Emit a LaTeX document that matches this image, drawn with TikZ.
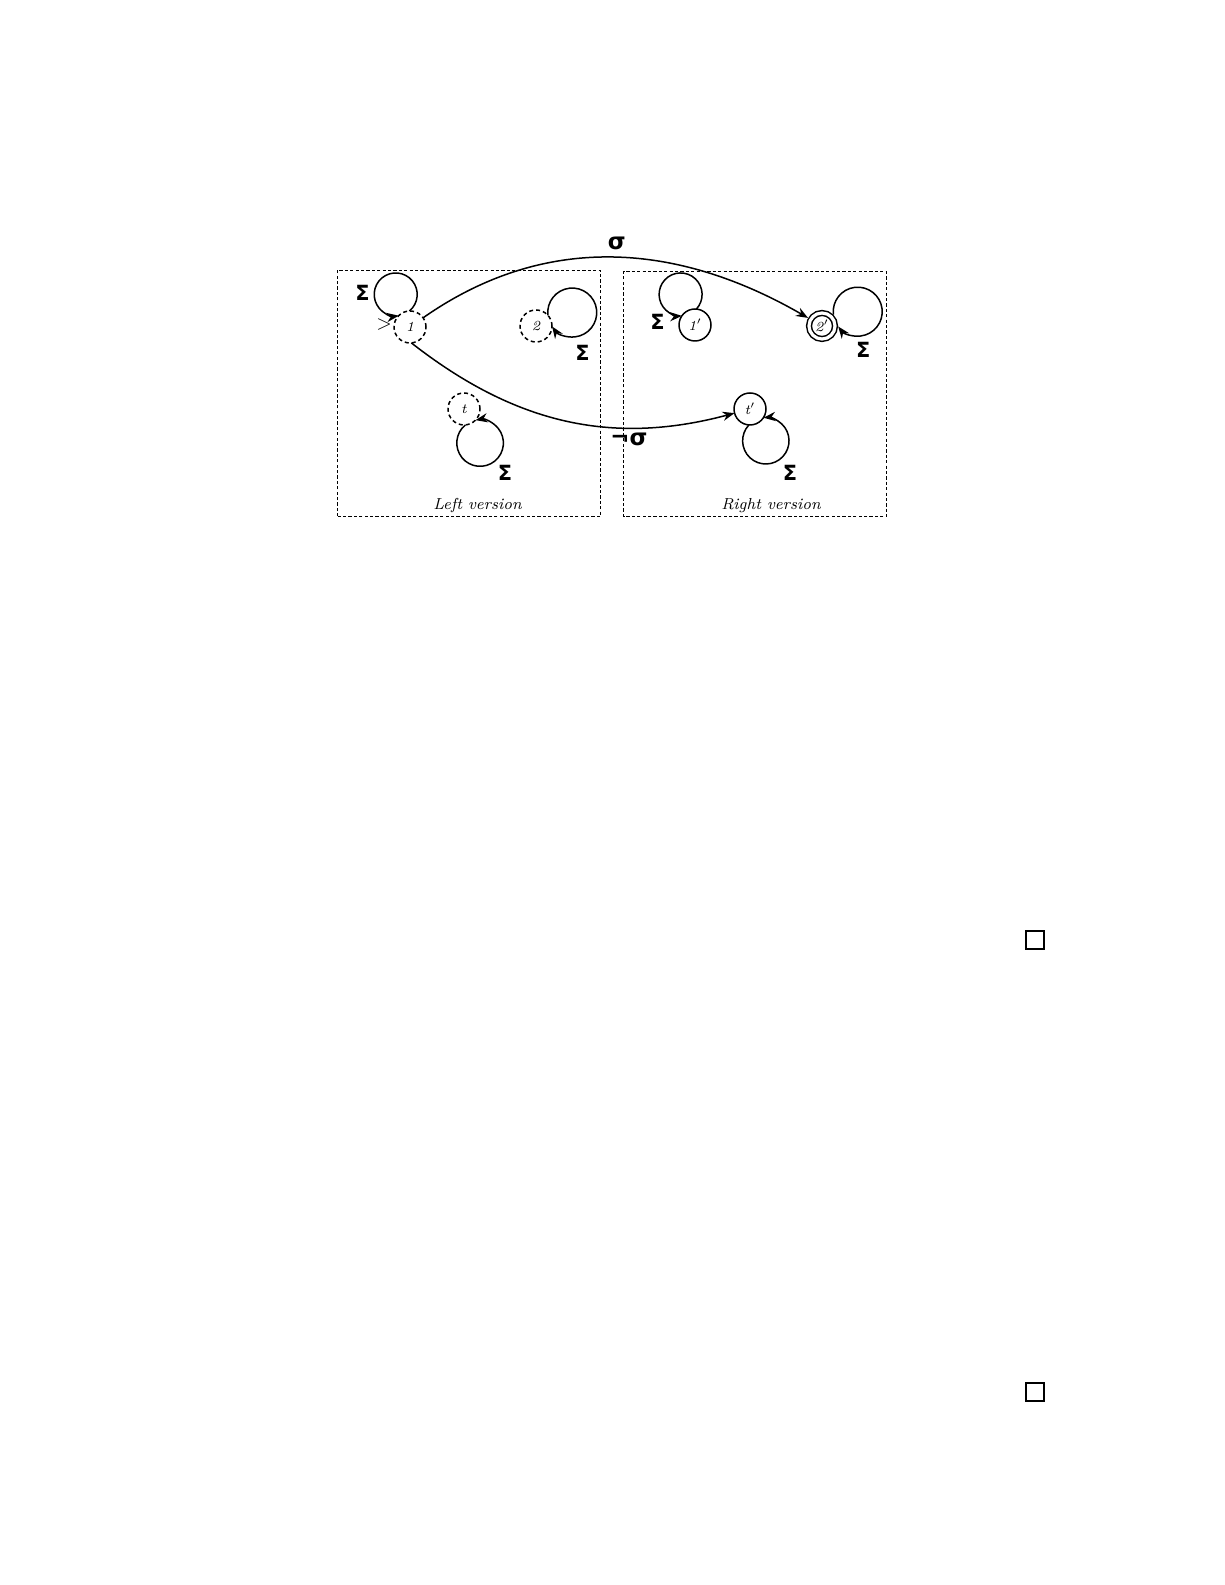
\documentclass[tikz,border=0pt]{standalone}
\usepackage{amsmath}
\usepackage{amssymb}
\usepackage{fontspec}
\newfontfamily\symsans{DejaVu Sans}
\usetikzlibrary{arrows.meta, positioning, calc}

\begin{document}
\begin{tikzpicture}[
    x=0.5bp, y=0.5bp,
    >={Stealth[length=6bp, width=4.6bp]}, % filled arrow heads
    conn/.style={->, line width=0.75bp},   % transitions
    frame/.style={draw, line width=0.5bp, dash pattern=on 1.6bp off 1.1bp}, % version boxes
    st/.style={circle, draw, line width=0.75bp, minimum size=16bp, inner sep=0pt, outer sep=0pt, font=\scriptsize\itshape},
    ghost/.style={st, dash pattern=on 2bp off 1.5bp}, % dashed states
    final/.style={st, double, double distance=1.6bp, minimum size=13bp, outer sep=1.55bp},
    sig/.style={font=\symsans\bfseries\fontsize{10.5}{12}\selectfont},
    lbl/.style={font=\symsans\bfseries\fontsize{11.5}{14}\selectfont},
    captxt/.style={font=\footnotesize\itshape, anchor=base},
    qed/.style={draw, line width=1bp, minimum size=9bp, inner sep=0pt}
]
    % page
    \useasboundingbox (0,0) rectangle (1225,1585);

    % 1. the two boxes
    \draw[frame] (337,1068.5) rectangle (600.5,1314.5);
    \draw[frame] (623.5,1068) rectangle (886,1313.5);
    \node[captxt] (capl) at (477.5,1075) {Left version};
    \node[captxt] (capr) at (771,1075) {Right version};

    % 2. states
    \node[ghost] (l1) at (410,1258) {1};
    \node[ghost] (l2) at (536,1259) {2};
    \node[ghost] (lt) at (464,1176) {t};
    \node[st] (r1) at (695,1260) {1$'$};
    \node[final] (r2) at (822,1259) {2$'$};
    \node[st] (rt) at (750,1176) {t$'$};
    \node[font=\normalsize] (ini) at (384,1260) {$>$};

    % 3. loops
    \draw[conn] (l1.92.7) arc[start angle=-50.3, delta angle=328.6, radius=10.75bp];
    \draw[conn] (l2.42.4) arc[start angle=186.4, delta angle=-331.8, radius=12.25bp];
    \draw[conn] (lt.-85.3) arc[start angle=129.1, delta angle=332.2, radius=11.65bp];
    \draw[conn] (r1.85.4) arc[start angle=-42.75, delta angle=316.3, radius=10.75bp];
    \draw[conn] (r2.45.6) arc[start angle=186.85, delta angle=-329.7, radius=12.25bp];
    \draw[conn] (rt.-94.2) arc[start angle=136.9, delta angle=319, radius=11.6bp];
    \node[sig] (s1) at (362.5,1291.7) {Σ};
    \node[sig] (s2) at (582.5,1232.5) {Σ};
    \node[sig] (st) at (505,1112) {Σ};
    \node[sig] (s1p) at (657.5,1263.3) {Σ};
    \node[sig] (s2p) at (863.3,1234.7) {Σ};
    \node[sig] (stp) at (790,1111.7) {Σ};

    % 4. transitions between the versions
    \draw[conn] (l1) to[out=35, in=150] node[lbl, above, pos=0.51] (sg) {σ} (r2);
    \draw[conn] (l1.-85) to[out=-38, in=195] node[lbl, below, inner sep=2.5bp, pos=0.7] (nsg) {¬σ} (rt);

    % end-of-proof boxes
    \node[qed] (q1) at (1035,644.5) {};
    \node[qed] (q2) at (1035,192.5) {};
\end{tikzpicture}
\end{document}
